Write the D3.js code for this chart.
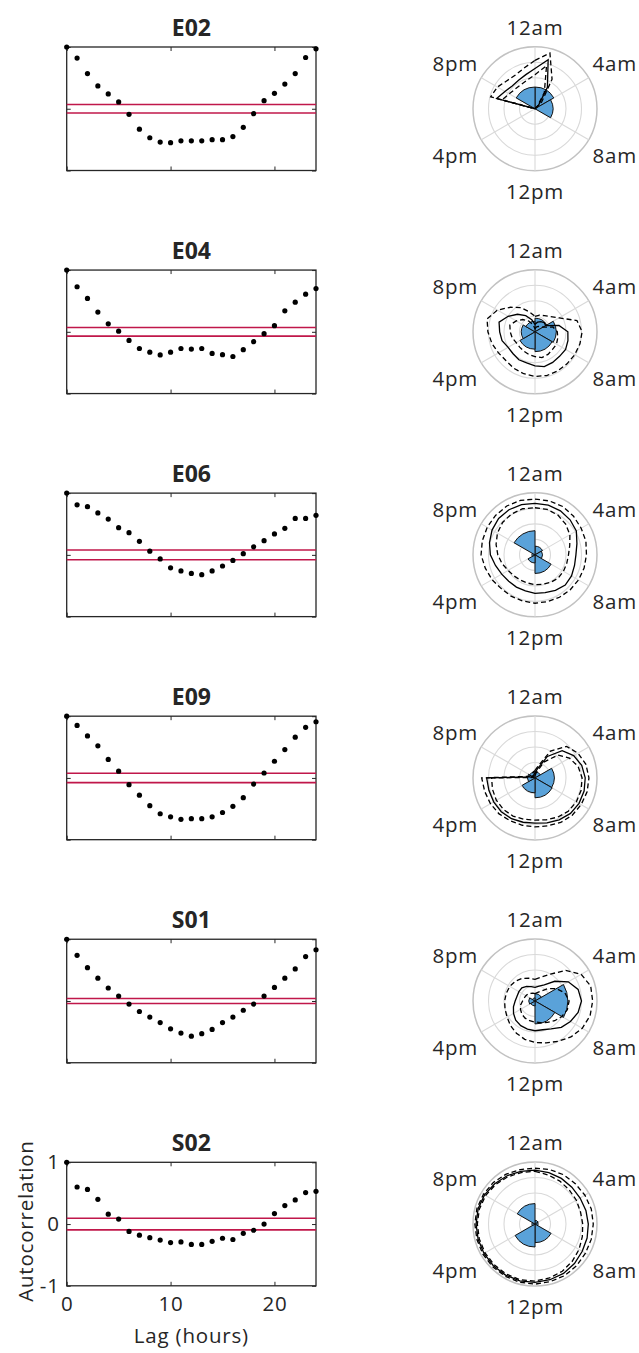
<!DOCTYPE html>
<html>
<head>
<meta charset="utf-8">
<script src="https://cdn.jsdelivr.net/npm/d3@7/dist/d3.min.js"></script>
<style>
  body { margin: 0; background: #fff; }
  text { font-family: "Open Sans", sans-serif; fill: #262626; }
</style>
</head>
<body>
<svg id="fig" width="639" height="1353"></svg>
<script>
// ---- data ----
const names = ["E02", "E04", "E06", "E09", "S01", "S02"];
const lags = [0,1,2,3,4,5,6,7,8,9,10,11,12,13,14,15,16,17,18,19,20,21,22,23,24];

const acfE02 = [1,0.82,0.57,0.37,0.24,0.11,-0.09,-0.33,-0.47,-0.54,-0.55,-0.52,-0.52,-0.52,-0.5,-0.5,-0.45,-0.3,-0.08,0.13,0.25,0.4,0.57,0.83,0.97];
const acfE04 = [1,0.73,0.54,0.32,0.13,0.01,-0.14,-0.27,-0.33,-0.375,-0.33,-0.27,-0.28,-0.27,-0.35,-0.37,-0.4,-0.29,-0.16,-0.03,0.1,0.34,0.48,0.61,0.7];
const acfE06 = [1,0.81,0.78,0.68,0.58,0.44,0.36,0.22,0.06,-0.065,-0.21,-0.26,-0.3,-0.32,-0.26,-0.18,-0.09,0.02,0.13,0.23,0.34,0.43,0.59,0.59,0.64];
const acfE09 = [1,0.85,0.68,0.52,0.3,0.11,-0.11,-0.28,-0.45,-0.58,-0.63,-0.67,-0.66,-0.66,-0.63,-0.56,-0.46,-0.32,-0.1,0.08,0.27,0.46,0.66,0.82,0.91];
const acfS01 = [1,0.74,0.54,0.37,0.21,0.08,-0.05,-0.17,-0.26,-0.35,-0.45,-0.52,-0.57,-0.53,-0.46,-0.35,-0.26,-0.15,-0.05,0.08,0.22,0.37,0.52,0.72,0.83];
const acfS02 = [1,0.6,0.56,0.4,0.16,0.08,-0.12,-0.18,-0.22,-0.26,-0.3,-0.29,-0.33,-0.33,-0.28,-0.23,-0.25,-0.15,-0.1,0,0.17,0.3,0.39,0.51,0.53];
const ciLevels = [0.07, 0.07, 0.08, 0.076, 0.04, 0.095];

const xTicks = [0, 10, 20];
const yTicks = [-1, 0, 1];

// polar: 24 hourly points, radius as fraction of outer ring
const hours = [0,1,2,3,4,5,6,7,8,9,10,11,12,13,14,15,16,17,18,19,20,21,22,23];
const meanE02 = [0.65,0.82,0.4,0.08,0,0,0,0,0,0,0,0,0,0,0,0,0,0,0,0.64,0.56,0.52,0.53,0.57];
const upE02   = [0.78,0.93,0.55,0.15,0,0,0,0,0,0,0,0,0,0,0,0,0,0,0,0.74,0.7,0.64,0.63,0.68];
const loE02   = [0.55,0.72,0.3,0.05,0,0,0,0,0,0,0,0,0,0,0,0,0,0,0,0.55,0.48,0.45,0.45,0.48];
const meanE04 = [0.12,0.16,0.19,0.21,0.2,0.4,0.53,0.55,0.57,0.56,0.57,0.58,0.55,0.52,0.52,0.5,0.5,0.55,0.57,0.6,0.5,0.4,0.3,0.2];
const upE04   = [0.25,0.28,0.3,0.35,0.45,0.7,0.76,0.75,0.74,0.73,0.73,0.73,0.72,0.7,0.68,0.66,0.68,0.72,0.76,0.8,0.7,0.56,0.45,0.33];
const loE04   = [0.05,0.08,0.1,0.12,0.15,0.3,0.36,0.38,0.4,0.4,0.42,0.43,0.4,0.38,0.36,0.35,0.35,0.38,0.4,0.42,0.35,0.28,0.2,0.12];
const meanE06 = [0.83,0.83,0.82,0.8,0.77,0.7,0.66,0.66,0.68,0.69,0.66,0.63,0.62,0.6,0.6,0.6,0.62,0.66,0.72,0.76,0.8,0.83,0.84,0.84];
const upE06   = [0.9,0.9,0.9,0.88,0.86,0.85,0.83,0.82,0.81,0.8,0.79,0.78,0.78,0.77,0.77,0.77,0.8,0.83,0.87,0.88,0.89,0.9,0.91,0.91];
const loE06   = [0.76,0.76,0.74,0.7,0.65,0.58,0.54,0.53,0.53,0.53,0.51,0.49,0.48,0.47,0.47,0.48,0.5,0.55,0.6,0.65,0.7,0.74,0.76,0.77];
const meanE09 = [0.08,0.15,0.4,0.62,0.72,0.78,0.81,0.82,0.82,0.81,0.78,0.75,0.73,0.74,0.76,0.77,0.77,0.77,0.78,0.06,0.05,0.05,0.05,0.06];
const upE09   = [0.12,0.2,0.5,0.72,0.8,0.85,0.87,0.87,0.86,0.85,0.83,0.8,0.79,0.79,0.8,0.82,0.83,0.84,0.86,0.1,0.08,0.08,0.08,0.1];
const loE09   = [0.04,0.1,0.3,0.52,0.64,0.72,0.76,0.77,0.77,0.76,0.73,0.7,0.68,0.69,0.71,0.72,0.72,0.71,0.7,0.03,0.03,0.03,0.03,0.04];
const meanS01 = [0.22,0.25,0.3,0.45,0.62,0.72,0.75,0.72,0.66,0.6,0.52,0.48,0.48,0.47,0.46,0.44,0.4,0.36,0.32,0.3,0.3,0.3,0.27,0.24];
const upS01   = [0.35,0.4,0.5,0.7,0.86,0.93,0.93,0.92,0.88,0.82,0.75,0.7,0.67,0.64,0.6,0.56,0.52,0.5,0.49,0.48,0.47,0.45,0.42,0.38];
const loS01   = [0.12,0.14,0.18,0.28,0.4,0.5,0.55,0.54,0.5,0.45,0.4,0.36,0.34,0.33,0.32,0.3,0.27,0.24,0.2,0.18,0.17,0.16,0.14,0.13];
const meanS02 = [0.87,0.86,0.85,0.84,0.84,0.85,0.86,0.87,0.88,0.9,0.92,0.93,0.94,0.95,0.95,0.95,0.95,0.95,0.95,0.95,0.94,0.92,0.9,0.88];
const upS02   = [0.9,0.91,0.92,0.92,0.93,0.94,0.94,0.94,0.94,0.95,0.96,0.96,0.97,0.97,0.97,0.97,0.97,0.97,0.97,0.97,0.96,0.95,0.93,0.91];
const loS02   = [0.85,0.82,0.8,0.78,0.77,0.76,0.77,0.79,0.82,0.85,0.88,0.9,0.92,0.93,0.93,0.93,0.93,0.93,0.93,0.93,0.92,0.9,0.88,0.86];

// 4-hour histogram bins (start hour), radius as fraction of outer ring
const binStarts = [0, 4, 8, 12, 16, 20];
const binsE02 = [0.35, 0.29, 0, 0, 0, 0.35];
const binsE04 = [0.22, 0.34, 0.32, 0.28, 0.22, 0.17];
const binsE06 = [0.14, 0.12, 0.3, 0.13, 0.05, 0.39];
const binsE09 = [0.1, 0.31, 0.32, 0.24, 0.12, 0.1];
const binsS01 = [0.12, 0.53, 0.37, 0.08, 0.1, 0.05];
const binsS02 = [0.06, 0.05, 0.3, 0.37, 0.05, 0.33];

const thetaHours = [0, 4, 8, 12, 16, 20];
const thetaLabels = ["12am", "4am", "8am", "12pm", "4pm", "8pm"];
const ringLevels = [1, 0.75, 0.5, 0.25];

const acfs = [acfE02, acfE04, acfE06, acfE09, acfS01, acfS02];
const means = [meanE02, meanE04, meanE06, meanE09, meanS01, meanS02];
const ups = [upE02, upE04, upE06, upE09, upS01, upS02];
const los = [loE02, loE04, loE06, loE09, loS01, loS02];
const bins = [binsE02, binsE04, binsE06, binsE09, binsS01, binsS02];

// ---- layout ----
const svg = d3.select("#fig");
const left = 66.7, right = 316, boxH = 123.5;
const firstTop = 47, step = 223.06;
const cxPolar = 535, R = 62;
const fs = "20.5px", ls = "0.8px";

const x = d3.scaleLinear().domain([0, 24]).range([left, right]);
const hourAngle = h => h / 24 * 2 * Math.PI;
const r = d3.scaleLinear().domain([0, 1]).range([0, R]);

names.forEach((name, i) => {
    const top = firstTop + i * step;
    const y = d3.scaleLinear().domain([-1, 1]).range([top + boxH, top]);
    const last = i === names.length - 1;
    const g = svg.append("g");

    // title
    g.append("text")
        .attr("x", (left + right) / 2).attr("y", top - 11)
        .attr("text-anchor", "middle")
        .style("font-weight", "bold").style("font-size", "23px")
        .text(name);

    // ticks on all four sides, inward
    const axB = d3.axisBottom(x).tickValues(xTicks).tickSizeInner(-4).tickSizeOuter(0).tickPadding(11).tickFormat(d => String(d));
    const axT = d3.axisTop(x).tickValues(xTicks).tickSizeInner(-4).tickSizeOuter(0).tickFormat("");
    const axL = d3.axisLeft(y).tickValues(yTicks).tickSizeInner(-4).tickSizeOuter(0).tickPadding(7).tickFormat(d => String(d));
    const axR = d3.axisRight(y).tickValues(yTicks).tickSizeInner(-4).tickSizeOuter(0).tickFormat("");
    if (!last) { axB.tickFormat(""); axL.tickFormat(""); }

    [[axB, `translate(0,${top + boxH})`], [axT, `translate(0,${top})`],
     [axL, `translate(${left},0)`], [axR, `translate(${right},0)`]].forEach(([ax, tr]) => {
        const a = g.append("g").attr("transform", tr).call(ax);
        a.select(".domain").remove();
        a.selectAll("line").attr("stroke", "#262626");
        a.selectAll("text").style("font-size", fs).style("font-family", '"Open Sans", sans-serif')
            .attr("fill", "#262626").style("letter-spacing", ls);
    });

    g.append("rect")
        .attr("x", left).attr("y", top).attr("width", right - left).attr("height", boxH)
        .attr("fill", "none").attr("stroke", "#262626").attr("stroke-width", 1.3);

    // confidence lines
    [ciLevels[i], -ciLevels[i]].forEach(c => {
        g.append("line")
            .attr("x1", x(0)).attr("x2", x(24)).attr("y1", y(c)).attr("y2", y(c))
            .attr("stroke", "#c0174a").attr("stroke-width", 1.6);
    });

    g.selectAll("circle.dot").data(acfs[i]).enter().append("circle")
        .attr("class", "dot")
        .attr("cx", (d, j) => x(lags[j])).attr("cy", d => y(d))
        .attr("r", 2.6).attr("fill", "#000");

    // ---- polar ----
    const cy = top + boxH / 2;
    const p = svg.append("g").attr("transform", `translate(${cxPolar},${cy})`);

    ringLevels.forEach(lv => {
        p.append("circle").attr("r", r(lv)).attr("fill", "none")
            .attr("stroke", lv === 1 ? "#c2c2c2" : "#d9d9d9").attr("stroke-width", lv === 1 ? 1.5 : 1.1);
    });
    p.selectAll("line.spoke").data(thetaHours).enter().append("line")
        .attr("class", "spoke")
        .attr("x1", 0).attr("y1", 0)
        .attr("x2", h => Math.sin(hourAngle(h)) * r(1))
        .attr("y2", h => -Math.cos(hourAngle(h)) * r(1))
        .attr("stroke", "#d9d9d9").attr("stroke-width", 1.1);

    const arc = d3.arc().innerRadius(0);
    p.selectAll("path.bin").data(bins[i]).enter().append("path")
        .attr("class", "bin")
        .attr("d", (d, k) => arc({ outerRadius: r(d), startAngle: hourAngle(binStarts[k]), endAngle: hourAngle(binStarts[k] + 4) }))
        .attr("fill", "#5aa2d9").attr("stroke", "#111").attr("stroke-width", 1);

    const radial = d3.lineRadial()
        .angle((d, k) => hourAngle(hours[k]))
        .radius(d => r(d))
        .curve(d3.curveLinearClosed);
    [[ups[i], "5,3"], [los[i], "5,3"], [means[i], null]].forEach(([series, dash]) => {
        p.append("path").datum(series)
            .attr("d", radial)
            .attr("fill", "none").attr("stroke", "#000").attr("stroke-width", 1.3)
            .attr("stroke-dasharray", dash);
    });

    thetaHours.forEach((h, k) => {
        const a = hourAngle(h);
        const rl = (h === 0 || h === 12) ? 82 : 92;
        p.append("text")
            .attr("x", Math.sin(a) * rl).attr("y", -Math.cos(a) * rl)
            .attr("text-anchor", "middle").attr("dominant-baseline", "central")
            .style("font-size", fs).style("letter-spacing", ls)
            .text(thetaLabels[k]);
    });
});

// axis titles of the bottom panel
const lastTop = firstTop + (names.length - 1) * step;
svg.append("text")
    .attr("x", (left + right) / 2).attr("y", lastTop + boxH + 49)
    .attr("text-anchor", "middle").attr("dominant-baseline", "central")
    .style("font-size", fs).style("letter-spacing", ls)
    .text("Lag (hours)");
svg.append("text")
    .attr("transform", `translate(25,${lastTop + boxH / 2 - 3}) rotate(-90)`)
    .attr("text-anchor", "middle").attr("dominant-baseline", "central")
    .style("font-size", fs).style("letter-spacing", ls)
    .text("Autocorrelation");
</script>
</body>
</html>
